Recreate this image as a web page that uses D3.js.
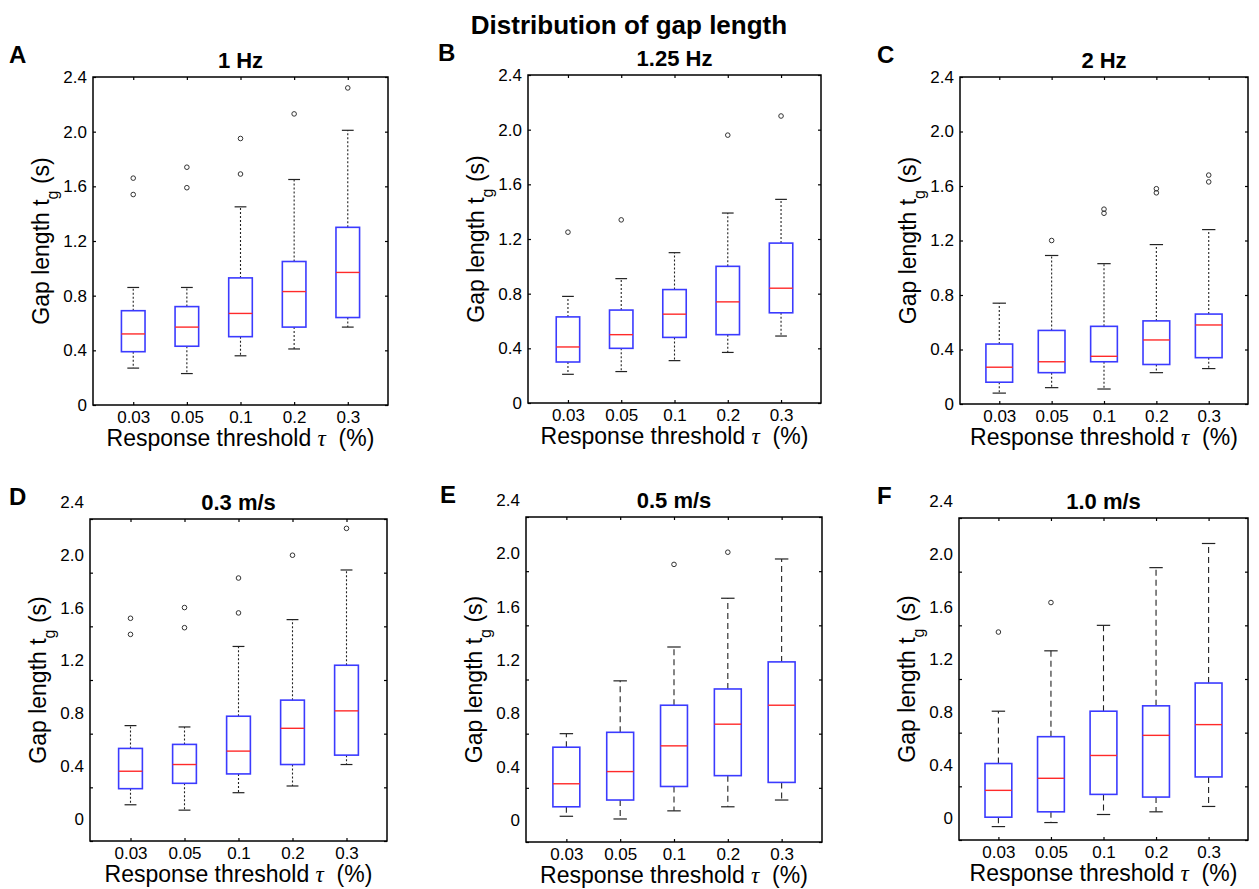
<!DOCTYPE html>
<html>
<head>
<meta charset="utf-8">
<script src="https://cdn.jsdelivr.net/npm/d3@7/dist/d3.min.js"></script>
<style>
  body { margin: 0; background: #fff; }
  svg { display: block; }
  text { font-family: "Liberation Sans", Arial, sans-serif; fill: #000; }
</style>
</head>
<body>
<div id="chart"></div>
<script>
// thresholds on the x axis
const categories = ['0.03', '0.05', '0.1', '0.2', '0.3'];
const yTicks = [0, 0.4, 0.8, 1.2, 1.6, 2.0, 2.4];
const yTickLabels = ['0', '0.4', '0.8', '1.2', '1.6', '2.0', '2.4'];

// box stats per threshold: [lower whisker, Q1, median, Q3, upper whisker]
const statsA = [[0.27, 0.39, 0.52, 0.69, 0.86], [0.23, 0.43, 0.57, 0.72, 0.86], [0.36, 0.50, 0.67, 0.93, 1.45], [0.41, 0.57, 0.83, 1.05, 1.65], [0.57, 0.64, 0.97, 1.30, 2.01]];
const outliersA = [[1.66, 1.54], [1.74, 1.59], [1.95, 1.69], [2.13], [2.32]];

const statsB = [[0.21, 0.30, 0.41, 0.63, 0.78], [0.23, 0.40, 0.50, 0.68, 0.91], [0.31, 0.48, 0.65, 0.83, 1.10], [0.37, 0.50, 0.74, 1.00, 1.39], [0.49, 0.66, 0.84, 1.17, 1.49]];
const outliersB = [[1.25], [1.34], [], [1.96], [2.10]];

const statsC = [[0.08, 0.16, 0.27, 0.44, 0.74], [0.12, 0.23, 0.31, 0.54, 1.09], [0.11, 0.31, 0.35, 0.57, 1.03], [0.23, 0.29, 0.47, 0.61, 1.17], [0.26, 0.34, 0.58, 0.66, 1.28]];
const outliersC = [[], [1.20], [1.43, 1.40], [1.58, 1.55], [1.68, 1.63]];

const statsD = [[0.27, 0.39, 0.52, 0.69, 0.86], [0.23, 0.43, 0.57, 0.72, 0.85], [0.36, 0.50, 0.67, 0.93, 1.45], [0.41, 0.57, 0.84, 1.05, 1.65], [0.57, 0.64, 0.97, 1.31, 2.02]];
const outliersD = [[1.66, 1.54], [1.74, 1.59], [1.96, 1.70], [2.13], [2.33]];

const statsE = [[0.19, 0.26, 0.43, 0.70, 0.80], [0.17, 0.31, 0.52, 0.81, 1.19], [0.23, 0.41, 0.71, 1.01, 1.44], [0.26, 0.49, 0.87, 1.13, 1.80], [0.31, 0.44, 1.01, 1.33, 2.09]];
const outliersE = [[], [], [2.05], [2.14], []];

const statsF = [[0.10, 0.17, 0.37, 0.57, 0.96], [0.13, 0.21, 0.46, 0.77, 1.41], [0.19, 0.34, 0.63, 0.96, 1.60], [0.21, 0.32, 0.78, 1.00, 2.03], [0.25, 0.47, 0.86, 1.17, 2.21]];
const outliersF = [[1.55], [1.77], [], [], []];

const width = 1259;
const height = 889;

// layout of each sub plot (pixel box of the axes)
const panels = [
    { letter: 'A', title: '1 Hz', stats: statsA, outliers: outliersA, x: 93, y: 77, w: 295, h: 328, lx: 9, boxFrac: 0.44, dash: '2,2', labShift: [0, 0] },
    { letter: 'B', title: '1.25 Hz', stats: statsB, outliers: outliersB, x: 528, y: 75, w: 293, h: 328, lx: 438, boxFrac: 0.44, dash: '2,2', labShift: [0, 0] },
    { letter: 'C', title: '2 Hz', stats: statsC, outliers: outliersC, x: 960, y: 77, w: 288, h: 327, lx: 877, boxFrac: 0.51, dash: '2,2', labShift: [0, 0] },
    { letter: 'D', title: '0.3 m/s', stats: statsD, outliers: outliersD, x: 90, y: 519, w: 297, h: 322, lx: 9, boxFrac: 0.44, dash: '2,2', labShift: [-22, -17] },
    { letter: 'E', title: '0.5 m/s', stats: statsE, outliers: outliersE, x: 526, y: 517, w: 296, h: 325, lx: 440, boxFrac: 0.5, dash: '6,4', labShift: [-22, -17] },
    { letter: 'F', title: '1.0 m/s', stats: statsF, outliers: outliersF, x: 959, y: 518, w: 289, h: 322, lx: 877, boxFrac: 0.51, dash: '6,4', labShift: [-22, -17] }
];

const svg = d3.select('#chart')
    .append('svg')
    .attr('width', width)
    .attr('height', height);

svg.append('text')
    .attr('x', 629)
    .attr('y', 34)
    .attr('text-anchor', 'middle')
    .style('font-size', '26px')
    .style('font-weight', 'bold')
    .text('Distribution of gap length');

function drawPanel(p) {
    const g = svg.append('g').attr('transform', `translate(${p.x},${p.y})`);

    const x = d3.scalePoint()
        .domain(categories)
        .range([0, p.w])
        .padding(0.75);

    const y = d3.scaleLinear()
        .domain([0, 2.4])
        .range([p.h, 0]);

    // in the lower row the tick labels sit above their tick marks
    const yLab = d3.scaleLinear()
        .domain([0, 2.4])
        .range([p.h + p.labShift[0], p.labShift[1]]);

    // inward tick marks on all four sides
    const tickGroups = [
        [d3.axisLeft(y).tickValues(yTicks), `translate(0,0)`],
        [d3.axisRight(y).tickValues(yTicks), `translate(${p.w},0)`],
        [d3.axisBottom(x), `translate(0,${p.h})`],
        [d3.axisTop(x), `translate(0,0)`]
    ];
    tickGroups.forEach(([axis, tr]) => {
        const t = g.append('g')
            .attr('transform', tr)
            .call(axis.tickSize(-3).tickFormat(''));
        t.select('.domain').remove();
        t.selectAll('line').attr('stroke', '#000').attr('stroke-width', 1.2);
    });

    g.append('rect')
        .attr('x', 0)
        .attr('y', 0)
        .attr('width', p.w)
        .attr('height', p.h)
        .attr('fill', 'none')
        .attr('stroke', '#000')
        .attr('stroke-width', 1.5);

    // tick labels
    const yAxis = g.append('g')
        .call(d3.axisLeft(yLab).tickValues(yTicks).tickSize(0).tickPadding(6)
            .tickFormat((d, i) => yTickLabels[i]));
    yAxis.select('.domain').remove();
    yAxis.selectAll('text').style('font-size', '17px').attr('fill', '#111');

    const xAxis = g.append('g')
        .attr('transform', `translate(0,${p.h})`)
        .call(d3.axisBottom(x).tickSize(0).tickPadding(6));
    xAxis.select('.domain').remove();
    xAxis.selectAll('text').style('font-size', '17px').attr('fill', '#111');

    // boxes
    const bw = x.step() * p.boxFrac;
    const items = g.append('g')
        .selectAll('.item')
        .data(p.stats.map((s, i) => ({ cat: categories[i], s: s, out: p.outliers[i] })))
        .enter()
        .append('g')
        .classed('item', true)
        .attr('transform', d => `translate(${x(d.cat)},0)`);

    // whiskers (dashed)
    items.append('line')
        .attr('x1', 0).attr('x2', 0)
        .attr('y1', d => y(d.s[3])).attr('y2', d => y(d.s[4]))
        .attr('stroke', '#222').attr('stroke-width', 1.1)
        .attr('stroke-dasharray', p.dash);
    items.append('line')
        .attr('x1', 0).attr('x2', 0)
        .attr('y1', d => y(d.s[1])).attr('y2', d => y(d.s[0]))
        .attr('stroke', '#222').attr('stroke-width', 1.1)
        .attr('stroke-dasharray', p.dash);

    // whisker caps
    [0, 4].forEach(k => {
        items.append('line')
            .attr('x1', -bw / 4).attr('x2', bw / 4)
            .attr('y1', d => y(d.s[k])).attr('y2', d => y(d.s[k]))
            .attr('stroke', '#222').attr('stroke-width', 1.2);
    });

    items.append('rect')
        .attr('x', -bw / 2)
        .attr('y', d => y(d.s[3]))
        .attr('width', bw)
        .attr('height', d => y(d.s[1]) - y(d.s[3]))
        .attr('fill', 'none')
        .attr('stroke', '#3b3bff')
        .attr('stroke-width', 1.6);

    items.append('line')
        .attr('x1', -bw / 2).attr('x2', bw / 2)
        .attr('y1', d => y(d.s[2])).attr('y2', d => y(d.s[2]))
        .attr('stroke', '#ff2a2a').attr('stroke-width', 1.4);

    items.selectAll('.outlier')
        .data(d => d.out)
        .enter()
        .append('circle')
        .classed('outlier', true)
        .attr('cx', 0)
        .attr('cy', d => y(d))
        .attr('r', 2.3)
        .attr('fill', 'none')
        .attr('stroke', '#333')
        .attr('stroke-width', 1);

    // titles and labels
    svg.append('text')
        .attr('x', p.lx)
        .attr('y', p.y - 14)
        .style('font-size', '24px')
        .style('font-weight', 'bold')
        .text(p.letter);

    g.append('text')
        .attr('x', p.w / 2)
        .attr('y', -9)
        .attr('text-anchor', 'middle')
        .style('font-size', '22px')
        .style('font-weight', 'bold')
        .text(p.title);

    const xl = g.append('text')
        .attr('x', p.w / 2)
        .attr('y', p.h + 41)
        .attr('text-anchor', 'middle')
        .style('font-size', '23px');
    xl.append('tspan').text('Response threshold ');
    xl.append('tspan')
        .style('font-family', '"Liberation Serif", serif')
        .style('font-style', 'italic')
        .text('τ');
    xl.append('tspan').text('\u00a0 (%)');

    const yl = g.append('text')
        .attr('transform', `translate(-44,${p.h / 2}) rotate(-90)`)
        .attr('text-anchor', 'middle')
        .style('font-size', '23px');
    yl.append('tspan').text('Gap length t');
    yl.append('tspan')
        .attr('baseline-shift', 'sub')
        .style('font-size', '16px')
        .text('g');
    yl.append('tspan').text(' (s)');
}

panels.forEach(drawPanel);
</script>
</body>
</html>
